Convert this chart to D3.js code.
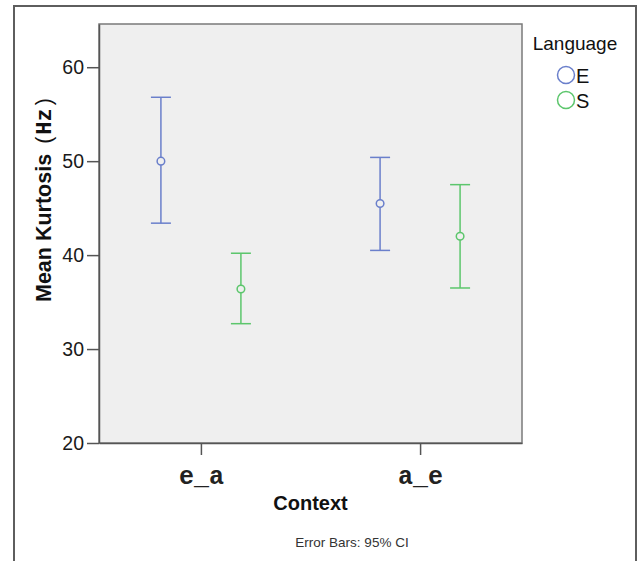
<!DOCTYPE html>
<html>
<head>
<meta charset="utf-8">
<script src="https://cdn.jsdelivr.net/npm/d3@7"></script>
<style>
  body { margin: 0; background: #fff; }
  svg { display: block; }
</style>
</head>
<body>
<div id="chart"></div>
<script>
// datos (medias e IC 95%)
const contexts = ['e_a', 'a_e'];
const languages = ['E', 'S'];
const langColors = ['#6a7fcb', '#5cc66c'];
const meanE = [50.0, 45.5];
const lowE = [43.4, 40.5];
const highE = [56.8, 50.4];
const meanS = [36.4, 42.0];
const lowS = [32.7, 36.5];
const highS = [40.2, 47.5];
const yTicks = [20, 30, 40, 50, 60];

const width = 638, height = 561;
const plot = { left: 99, top: 24, right: 522, bottom: 443 };

const svg = d3.select('#chart').append('svg').attr('width', width).attr('height', height);

// marco exterior
svg.append('path')
  .attr('d', `M14,${height + 2} L14,6 L636,6 L636,${height + 2}`)
  .attr('fill', 'none').attr('stroke', '#5e5e5e').attr('stroke-width', 2);

const y = d3.scaleLinear().domain([20, 64.6]).range([plot.bottom, plot.top]);
const x = d3.scalePoint().domain(contexts).range([plot.left, plot.right]).padding(0.465);
const dodge = d3.scalePoint().domain(languages).range([-40, 40]);

// fondo del area
svg.append('rect')
  .attr('x', plot.left).attr('y', plot.top)
  .attr('width', plot.right - plot.left).attr('height', plot.bottom - plot.top)
  .attr('fill', '#efefef').attr('stroke', '#7a7a7a').attr('stroke-width', 1.5);

// ejes
const yAxis = svg.append('g').attr('transform', `translate(${plot.left},0)`)
  .call(d3.axisLeft(y).tickValues(yTicks).tickSize(12).tickSizeOuter(0).tickPadding(3));
const xAxis = svg.append('g').attr('transform', `translate(0,${plot.bottom})`)
  .call(d3.axisBottom(x).tickSize(12).tickSizeOuter(0).tickPadding(11));

[yAxis, xAxis].forEach(g => {
  g.select('.domain').attr('stroke', '#555').attr('stroke-width', 1.5);
  g.selectAll('.tick line').attr('stroke', '#555').attr('stroke-width', 1.5);
});
yAxis.selectAll('.tick text')
  .attr('font-family', 'Liberation Sans, Arial, sans-serif').attr('font-size', 19.5).attr('fill', '#1a1a1a');
xAxis.selectAll('.tick text')
  .attr('font-family', 'Liberation Mono, Courier New, monospace').attr('font-weight', 'bold')
  .attr('font-size', 25).attr('fill', '#222');

// barras de error
const series = [
  { lang: 'E', mean: meanE, low: lowE, high: highE, color: langColors[0] },
  { lang: 'S', mean: meanS, low: lowS, high: highS, color: langColors[1] }
];
const pts = [];
series.forEach(s => contexts.forEach((c, i) => {
  pts.push({ cx: x(c) + dodge(s.lang), mean: s.mean[i], low: s.low[i], high: s.high[i], color: s.color });
}));

const eb = svg.append('g').selectAll('g').data(pts).enter().append('g');
eb.append('line')
  .attr('x1', d => d.cx).attr('x2', d => d.cx)
  .attr('y1', d => y(d.low)).attr('y2', d => y(d.high))
  .attr('stroke', d => d.color).attr('stroke-width', 1.5);
eb.append('line')
  .attr('x1', d => d.cx - 10).attr('x2', d => d.cx + 10)
  .attr('y1', d => y(d.high)).attr('y2', d => y(d.high))
  .attr('stroke', d => d.color).attr('stroke-width', 1.5);
eb.append('line')
  .attr('x1', d => d.cx - 10).attr('x2', d => d.cx + 10)
  .attr('y1', d => y(d.low)).attr('y2', d => y(d.low))
  .attr('stroke', d => d.color).attr('stroke-width', 1.5);
eb.append('circle')
  .attr('cx', d => d.cx).attr('cy', d => y(d.mean)).attr('r', 3.8)
  .attr('fill', '#efefef').attr('stroke', d => d.color).attr('stroke-width', 1.5);

// titulos
const ytitle = svg.append('text')
  .attr('transform', 'translate(51,302) rotate(-90)')
  .attr('text-anchor', 'start').attr('font-size', 21.5).attr('font-weight', 'bold').attr('fill', '#111')
  .attr('font-family', 'Liberation Sans, Arial, sans-serif');
ytitle.append('tspan').text('Mean Kurtosis');
ytitle.append('tspan').attr('dx', 10).attr('font-family', 'Liberation Sans, sans-serif').attr('font-weight', 'normal').text('(');
ytitle.append('tspan').attr('dx', 2).attr('font-family', 'Liberation Mono, monospace').attr('font-size', 22).text('Hz');
ytitle.append('tspan').attr('dx', 3).attr('font-family', 'Liberation Sans, sans-serif').attr('font-weight', 'normal').text(')');

svg.append('text')
  .attr('x', (plot.left + plot.right) / 2).attr('y', 510)
  .attr('text-anchor', 'middle').attr('font-size', 20).attr('font-weight', 'bold').attr('fill', '#111')
  .attr('font-family', 'Liberation Sans, Arial, sans-serif').text('Context');

svg.append('text')
  .attr('x', 352).attr('y', 547)
  .attr('text-anchor', 'middle').attr('font-size', 13.5).attr('fill', '#333')
  .attr('font-family', 'Liberation Sans, Arial, sans-serif').text('Error Bars: 95% CI');

// leyenda
const legend = svg.append('g').attr('font-family', 'Liberation Sans, Arial, sans-serif');
legend.append('text').attr('x', 575).attr('y', 50).attr('text-anchor', 'middle')
  .attr('font-size', 19).attr('fill', '#111').text('Language');
const items = legend.selectAll('g.item').data(languages).enter().append('g')
  .attr('transform', (d, i) => `translate(566,${75 + i * 25})`);
items.append('circle').attr('r', 8.5).attr('fill', 'none')
  .attr('stroke', (d, i) => langColors[i]).attr('stroke-width', 1.5);
items.append('text').attr('x', 10).attr('y', 8).attr('font-size', 20).attr('fill', '#111').text(d => d);
</script>
</body>
</html>
